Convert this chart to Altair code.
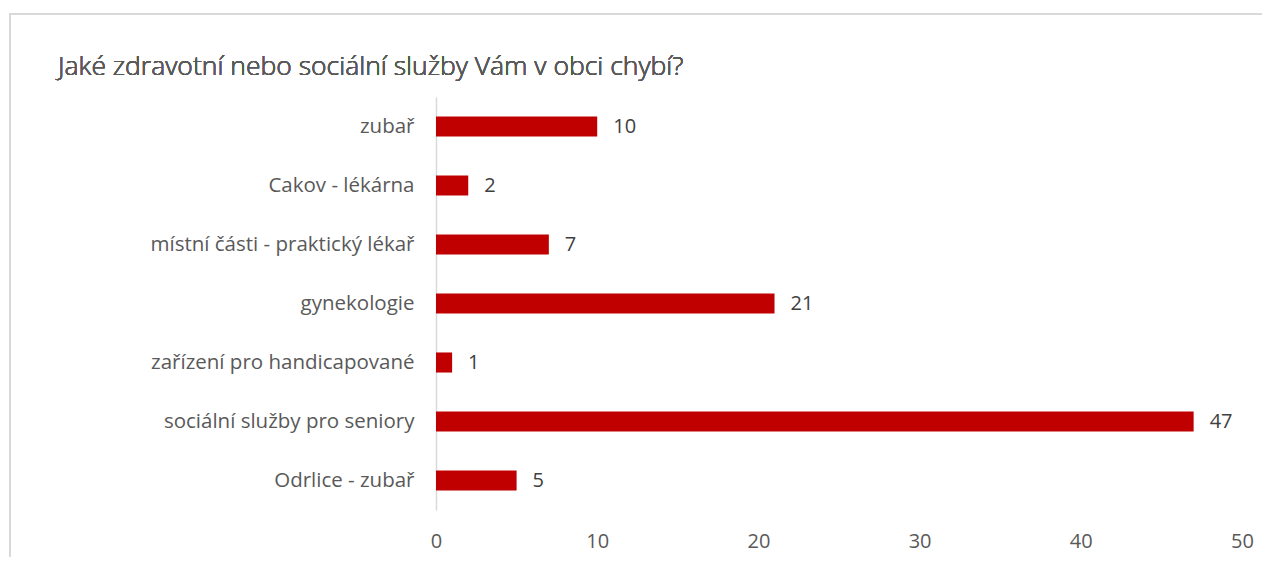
import altair as alt
import pandas as pd

categories = [
    "zubař",
    "Cakov - lékárna",
    "místní části - praktický lékař",
    "gynekologie",
    "zařízení pro handicapované",
    "sociální služby pro seniory",
    "Odrlice - zubař",
]
values = [10, 2, 7, 21, 1, 47, 5]
x_ticks = [0, 10, 20, 30, 40, 50]

df = pd.DataFrame({"cat": categories, "val": values})
FONT = "Open Sans"

y_enc = alt.Y("cat:N", sort=categories, title=None,
              scale=alt.Scale(paddingInner=0.66, paddingOuter=0.33),
              axis=alt.Axis(domain=True, domainColor="#D9D9D9", domainWidth=1.5,
                            ticks=False, labelPadding=22, labelFontSize=20.5,
                            labelColor="#595959", labelFont=FONT, labelLimit=500))
x_enc = alt.X("val:Q", title=None,
              scale=alt.Scale(domain=[0, 50], nice=False),
              axis=alt.Axis(values=x_ticks, domain=False, ticks=False, grid=False,
                            labelFlush=False, labelPadding=21, labelFontSize=20,
                            labelColor="#595959", labelFont=FONT))

bars = alt.Chart(df).mark_bar(color="#C00000").encode(y=y_enc, x=x_enc)
labels = alt.Chart(df).mark_text(align="left", dx=16, fontSize=20, color="#404040",
                                 font=FONT).encode(
    y=alt.Y("cat:N", sort=categories), x="val:Q", text="val:Q")

border = alt.Chart(df).mark_rect(fill=None, stroke="#D9D9D9", strokeWidth=1.5).encode(
    x=alt.value(-426), x2=alt.value(1000), y=alt.value(-83), y2=alt.value(600))

title = alt.Chart(df).mark_text(align="left", baseline="alphabetic", fontSize=26.5,
                                fontWeight=300, color="#595959", font=FONT).encode(
    x=alt.value(-378), y=alt.value(-22),
    text=alt.value("Jaké zdravotní nebo sociální služby Vám v obci chybí?"))

chart = alt.layer(border, bars, labels, title).properties(
    width=806, height=413,
    autosize=alt.AutoSizeParams(type="none"),
    padding={"left": 428, "top": 89, "right": 20, "bottom": 47},
).configure_view(stroke=None)

chart.save("out.html", embed_options={"renderer": "svg", "actions": False})
